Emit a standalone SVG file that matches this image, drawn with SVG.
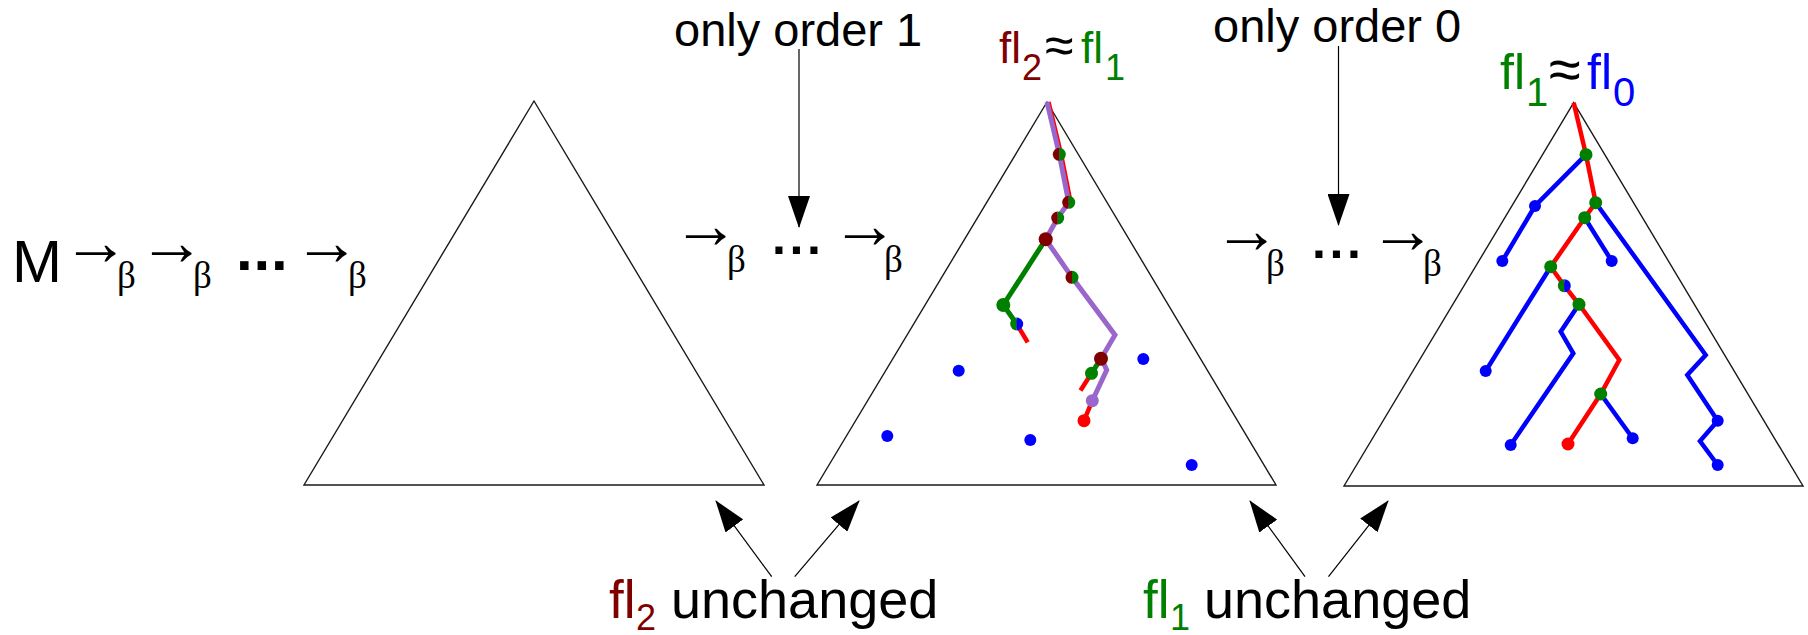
<svg xmlns="http://www.w3.org/2000/svg" xmlns:xlink="http://www.w3.org/1999/xlink" width="1808" height="635" viewBox="0 0 1808 635">
<style>
.tri{fill:none;stroke:#1a1a1a;stroke-width:1.4;stroke-linejoin:miter}
.sans{font-family:"Liberation Sans",Arial,sans-serif;fill:#000}
.serif{font-family:"Liberation Serif","Times New Roman",serif;fill:#000}
.ar{font-size:67px;letter-spacing:-13px}
.be{font-size:37px}
.dots{font-family:"Liberation Sans",Arial,sans-serif;font-weight:bold;fill:#000}
.conn{stroke:#000;stroke-width:1.2;fill:none}
.bl{stroke:#0000ff;stroke-width:4.5;fill:none;stroke-linejoin:miter}
.rd{stroke:#ff0000;stroke-width:4.5;fill:none;stroke-linejoin:miter}
.gr{stroke:#008000;stroke-width:5;fill:none}
.pu{stroke:#9966cc;stroke-width:5;fill:none;stroke-linejoin:miter}
.mar{fill:#800000}.grn{fill:#008000}.blu{fill:#0000ff}.red{fill:#ff0000}
</style>
<defs>
<marker id="ah" viewBox="0 0 32 22" refX="31" refY="11" markerWidth="32" markerHeight="22" markerUnits="userSpaceOnUse" orient="auto">
<path d="M0,0 L32,11 L0,22 Z" fill="#000"/>
</marker>
<g id="mg"><path d="M0,-6.5 A6.5,6.5 0 0 0 0,6.5 Z" fill="#800000"/><path d="M0,-6.5 A6.5,6.5 0 0 1 0,6.5 Z" fill="#008000"/></g>
<g id="gb"><path d="M0,-6.5 A6.5,6.5 0 0 0 0,6.5 Z" fill="#008000"/><path d="M0,-6.5 A6.5,6.5 0 0 1 0,6.5 Z" fill="#0000ff"/></g>
</defs>
<rect width="1808" height="635" fill="#fff"/>

<g id="reduction-left">
<text class="sans" x="12" y="282" font-size="60">M</text>
<text class="serif"><tspan class="ar" x="62" y="265">→</tspan><tspan class="be" x="117" y="288">β</tspan></text>
<text class="serif"><tspan class="ar" x="138" y="265">→</tspan><tspan class="be" x="193" y="288">β</tspan></text>
<text class="dots" x="236" y="270" font-size="60" letter-spacing="0.8">...</text>
<text class="serif"><tspan class="ar" x="293" y="265">→</tspan><tspan class="be" x="348" y="288">β</tspan></text>
</g>

<g id="triangle-left"><path class="tri" d="M534,101 L764,485 L304,485 Z"/></g>

<g id="reduction-mid">
<text class="serif"><tspan class="ar" x="672" y="248">→</tspan><tspan class="be" x="727" y="272">β</tspan></text>
<text class="dots" x="772" y="254" font-size="50" letter-spacing="3.6">...</text>
<text class="serif"><tspan class="ar" x="831" y="248">→</tspan><tspan class="be" x="884" y="272">β</tspan></text>
</g>

<g id="label-order1">
<text class="sans" x="674" y="46" font-size="47">only order 1</text>
</g>

<g id="label-fl2-fl1">
<text class="sans" y="63" font-size="44"><tspan x="999" fill="#800000">fl</tspan><tspan x="1022" y="80" font-size="36" fill="#800000">2</tspan><tspan x="1045" y="63" font-size="52">≈</tspan><tspan x="1081" y="63" fill="#008000">fl</tspan><tspan x="1105" y="80" font-size="36" fill="#008000">1</tspan></text>
</g>

<g id="triangle-mid">
<path class="tri" d="M1047,102 L1276,485 L817,485 Z"/>
<path class="rd" stroke-width="2" d="M1048.5,102 L1061,154 L1070.5,202"/>
<path class="rd" d="M1016.7,324 L1027.7,342.3"/>
<path class="rd" d="M1091.5,373.3 L1080.5,390.5"/>
<path class="rd" d="M1092.3,400.7 L1084,420.7"/>
<path class="gr" d="M1045.7,239.3 L1003.3,305 L1016.7,324"/>
<path class="gr" d="M1101,358.7 L1091.5,373.3"/>
<path class="pu" d="M1047,102 L1059.3,154.3 L1068.7,202.3 L1057.7,218 L1045.7,239.3 L1072,277.3 L1115,335 L1101,358.7"/>
<path class="pu" d="M1103,362 L1106.7,370 L1092.3,400.7"/>
<use xlink:href="#mg" x="1059.3" y="154.3"/>
<use xlink:href="#mg" x="1068.7" y="202.3"/>
<use xlink:href="#mg" x="1057.7" y="218"/>
<use xlink:href="#mg" x="1072" y="277.3"/>
<use xlink:href="#gb" x="1016.7" y="324"/>
<circle class="mar" cx="1045.7" cy="239.3" r="7"/>
<circle class="mar" cx="1101" cy="358.7" r="7"/>
<circle class="grn" cx="1003.3" cy="305" r="7"/>
<circle class="grn" cx="1091.5" cy="373.3" r="6.5"/>
<circle cx="1092.3" cy="400.7" r="6.5" fill="#9966cc"/>
<circle class="red" cx="1084" cy="420.7" r="6.5"/>
<circle class="blu" cx="958.7" cy="370.7" r="6"/>
<circle class="blu" cx="887.3" cy="436" r="6"/>
<circle class="blu" cx="1030.3" cy="440" r="6"/>
<circle class="blu" cx="1143.3" cy="359" r="6"/>
<circle class="blu" cx="1191.7" cy="465" r="6"/>
</g>

<g id="reduction-right">
<text class="serif"><tspan class="ar" x="1213" y="253">→</tspan><tspan class="be" x="1266" y="276">β</tspan></text>
<text class="dots" x="1312" y="258" font-size="50" letter-spacing="3.6">...</text>
<text class="serif"><tspan class="ar" x="1369" y="253">→</tspan><tspan class="be" x="1423" y="276">β</tspan></text>
</g>

<g id="label-order0">
<text class="sans" x="1213" y="42" font-size="47">only order 0</text>
</g>

<g id="label-fl1-fl0">
<text class="sans" y="89" font-size="50"><tspan x="1500" fill="#008000">fl</tspan><tspan x="1526" y="106" font-size="40" fill="#008000">1</tspan><tspan x="1549" y="89" font-size="58">≈</tspan><tspan x="1587" y="89" fill="#0000ff">fl</tspan><tspan x="1613" y="106" font-size="40" fill="#0000ff">0</tspan></text>
</g>

<g id="triangle-right">
<path class="tri" d="M1573.7,102.7 L1803,486 L1344,486 Z"/>
<path class="bl" d="M1586,154.7 L1535,206 L1502.3,261"/>
<path class="bl" d="M1595.7,202.7 L1705.7,355 L1687.3,375 L1717.7,420.7 L1700,441 L1717.7,465"/>
<path class="bl" d="M1584.7,217.7 L1611.7,261"/>
<path class="bl" d="M1550.7,266.7 L1485.7,371"/>
<path class="bl" d="M1579,304.3 L1560.7,331.7 L1573.3,353.3 L1510.7,445"/>
<path class="bl" d="M1600.7,394 L1632.7,438.3"/>
<path class="rd" d="M1573.7,102.7 L1586,154.7 L1595.7,202.7 L1584.7,217.7 L1550.7,266.7 L1564.3,285.7 L1579,304.3 L1619.3,360 L1600.7,394 L1568,444"/>
<circle class="grn" cx="1586" cy="154.7" r="6.5"/>
<circle class="grn" cx="1595.7" cy="202.7" r="6.5"/>
<circle class="grn" cx="1584.7" cy="217.7" r="6.5"/>
<circle class="grn" cx="1550.7" cy="266.7" r="6.5"/>
<circle class="grn" cx="1579" cy="304.3" r="6.5"/>
<circle class="grn" cx="1600.7" cy="394" r="6.5"/>
<use xlink:href="#gb" x="1564.3" y="285.7"/>
<circle class="blu" cx="1535" cy="206" r="6"/>
<circle class="blu" cx="1502.3" cy="261" r="6"/>
<circle class="blu" cx="1611.7" cy="261" r="6"/>
<circle class="blu" cx="1485.7" cy="371" r="6"/>
<circle class="blu" cx="1510.7" cy="445" r="6"/>
<circle class="blu" cx="1632.7" cy="438.3" r="6"/>
<circle class="blu" cx="1717.7" cy="420.7" r="6"/>
<circle class="blu" cx="1717.7" cy="465" r="6"/>
<circle class="red" cx="1568" cy="444" r="6.5"/>
</g>

<g id="label-fl2-unchanged">
<text class="sans" y="618" font-size="53"><tspan x="609" fill="#800000">fl</tspan><tspan x="636" y="630" font-size="36" fill="#800000">2</tspan><tspan x="671" y="618" font-size="54">unchanged</tspan></text>
</g>
<g id="label-fl1-unchanged">
<text class="sans" y="618" font-size="53"><tspan x="1143" fill="#008000">fl</tspan><tspan x="1170" y="630" font-size="36" fill="#008000">1</tspan><tspan x="1204" y="618" font-size="54">unchanged</tspan></text>
</g>

<g id="connectors">
<line class="conn" x1="799" y1="49" x2="799" y2="227" marker-end="url(#ah)"/>
<line class="conn" x1="1338.5" y1="46" x2="1338.5" y2="225" marker-end="url(#ah)"/>
<line class="conn" x1="771.7" y1="576.7" x2="716" y2="501" marker-end="url(#ah)"/>
<line class="conn" x1="794.7" y1="576.7" x2="859" y2="501" marker-end="url(#ah)"/>
<line class="conn" x1="1305" y1="576.7" x2="1250" y2="501" marker-end="url(#ah)"/>
<line class="conn" x1="1328.5" y1="576.7" x2="1388" y2="501" marker-end="url(#ah)"/>
</g>
</svg>
